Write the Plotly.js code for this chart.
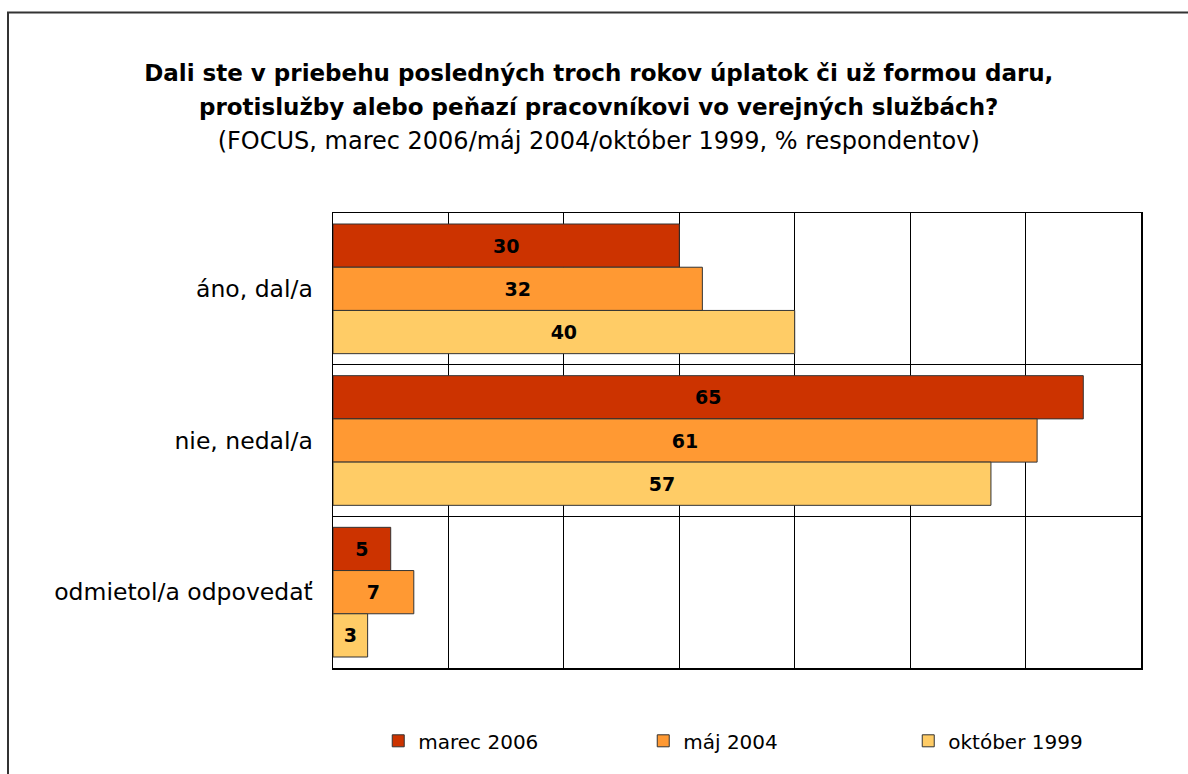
<!DOCTYPE html>
<html>
<head>
<meta charset="utf-8">
<script src="https://cdn.plot.ly/plotly-3.0.1.min.js"></script>
<style>
  html, body { margin: 0; padding: 0; background: #fff; }
  #chart { width: 1188px; height: 774px; }
</style>
</head>
<body>
<div id="chart"></div>
<script>
const categories = ["áno, dal/a", "nie, nedal/a", "odmietol/a odpovedať"];
const seriesNames = ["marec 2006", "máj 2004", "október 1999"];
const marec2006 = [30, 65, 5];
const maj2004 = [32, 61, 7];
const oktober1999 = [40, 57, 3];
const seriesValues = [marec2006, maj2004, oktober1999];
const seriesColors = ["#CC3300", "#FF9933", "#FFCC66"];

const titleLines = [
  "Dali ste v priebehu posledných troch rokov úplatok či už formou daru,",
  "protislužby alebo peňazí pracovníkovi vo verejných službách?",
  "(FOCUS, marec 2006/máj 2004/október 1999, % respondentov)"
];

const FONT = "DejaVu Sans, Verdana, sans-serif";

const traces = seriesNames.map((name, i) => ({
  type: "bar",
  orientation: "h",
  name: name,
  y: categories,
  x: seriesValues[i],
  text: seriesValues[i].map(v => String(v)),
  textposition: "inside",
  insidetextanchor: "middle",
  textangle: 0,
  constraintext: "none",
  textfont: { family: FONT, size: 19, color: "#000000", weight: "bold" },
  marker: { color: seriesColors[i], line: { color: "#333333", width: 1 } },
  hoverinfo: "x+name"
}));

const layout = {
  width: 1188,
  height: 774,
  margin: { l: 333, r: 47, t: 213, b: 106, pad: 0 },
  paper_bgcolor: "#ffffff",
  plot_bgcolor: "#ffffff",
  font: { family: FONT, color: "#000000" },
  title: {
    text: '<span style="font-size:23px"><b>' + titleLines[0] + '</b><br><b>' + titleLines[1] + '</b></span><br><span style="font-size:24px">' + titleLines[2] + '</span>',
    font: { family: FONT, size: 26, color: "#000000" },
    x: 0.504,
    xanchor: "center",
    xref: "container",
    y: 0.895,
    yanchor: "top",
    yref: "container"
  },
  barmode: "group",
  bargap: 0.145,
  bargroupgap: 0,
  showlegend: true,
  legend: {
    orientation: "h",
    x: 0.056,
    xanchor: "left",
    y: -0.16,
    yanchor: "middle",
    font: { family: FONT, size: 20, color: "#000000" },
    entrywidth: 220,
    entrywidthmode: "pixels",
    traceorder: "normal",
    itemwidth: 30,
    bgcolor: "rgba(0,0,0,0)"
  },
  xaxis: {
    range: [0, 70],
    dtick: 10,
    tick0: 0,
    showticklabels: false,
    ticks: "",
    showgrid: true,
    gridcolor: "#000000",
    gridwidth: 1,
    zeroline: false,
    showline: true,
    mirror: true,
    linecolor: "#000000",
    linewidth: 1.5,
    fixedrange: true
  },
  yaxis: {
    type: "category",
    autorange: "reversed",
    tickson: "boundaries",
    ticks: "",
    showgrid: true,
    gridcolor: "#000000",
    gridwidth: 1,
    zeroline: false,
    showline: true,
    mirror: true,
    linecolor: "#000000",
    linewidth: 1.5,
    ticklabelstandoff: 14,
    tickfont: { family: FONT, size: 23.5, color: "#000000" },
    fixedrange: true
  },
  shapes: [{
    type: "rect",
    xref: "paper", yref: "paper",
    x0: (8 - 333) / 808, x1: (1240 - 333) / 808,
    y0: (668 - 820) / 455, y1: (668 - 12.5) / 455,
    line: { color: "#333333", width: 2 },
    fillcolor: "rgba(0,0,0,0)",
    layer: "below"
  }]
};

Plotly.newPlot("chart", traces, layout, { displayModeBar: false, staticPlot: true });
</script>
</body>
</html>
